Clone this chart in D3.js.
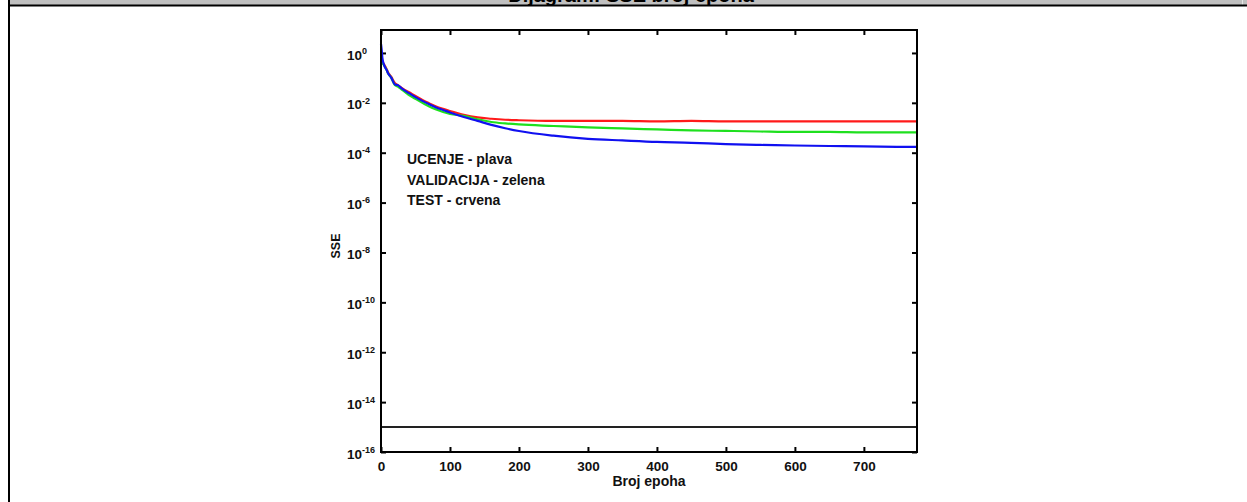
<!DOCTYPE html>
<html>
<head>
<meta charset="utf-8">
<script src="https://cdn.jsdelivr.net/npm/d3@7"></script>
<style>
  html, body { margin: 0; padding: 0; background: #fff; }
  svg { display: block; font-family: "Liberation Sans", Arial, sans-serif; }
</style>
</head>
<body>
<svg id="chart" width="1247" height="502"></svg>
<script>
// ---- data ----
const epochs = [0, 1, 2, 3, 5, 8, 10, 15, 20, 25, 30, 40, 50, 60, 70, 80, 90, 100,
  120, 140, 160, 180, 200, 250, 300, 350, 400, 450, 500, 550, 600, 650, 700, 777];
const sseTrain = [2.3, 1.32, 0.63, 0.44, 0.30, 0.21, 0.158, 0.10, 0.055, 0.050, 0.038, 0.025,
  0.017, 0.012, 0.0087, 0.0065, 0.0052, 0.0041, 0.0027, 0.00188, 0.0013, 0.00096, 0.00074,
  0.00048, 0.00036, 0.00031, 0.00027, 0.00025, 0.00022, 0.000205, 0.000195, 0.000186, 0.000178, 0.00017];
const sseValidation = [0.52, 0.48, 0.40, 0.36, 0.30, 0.21, 0.158, 0.10, 0.052, 0.044, 0.034, 0.021,
  0.0144, 0.010, 0.0071, 0.0054, 0.0043, 0.0036, 0.0030, 0.0022, 0.0017, 0.00149, 0.00136,
  0.00118, 0.00103, 0.00094, 0.00086, 0.00078, 0.00075, 0.00071, 0.00068, 0.00068, 0.00065, 0.00065];
const sseTest = [0.57, 0.52, 0.44, 0.40, 0.33, 0.23, 0.173, 0.109, 0.063, 0.050, 0.040, 0.027,
  0.019, 0.013, 0.0095, 0.0071, 0.0057, 0.0047, 0.0033, 0.0026, 0.0023, 0.0021, 0.0020,
  0.00188, 0.00188, 0.00188, 0.00179, 0.00188, 0.00179, 0.00179, 0.00179, 0.00179, 0.00179, 0.00179];
const goal = 1e-15;
const xTicks = [0, 100, 200, 300, 400, 500, 600, 700];
const yTicks = [1e0, 1e-2, 1e-4, 1e-6, 1e-8, 1e-10, 1e-12, 1e-14, 1e-16];
const legendLines = ["UCENJE - plava", "VALIDACIJA - zelena", "TEST - crvena"];
const titleText = "Dijagram: SSE broj epoha";
const xLabel = "Broj epoha";
const yLabel = "SSE";

// ---- layout ----
const W = 1247, H = 502;
const L = 381, R = 917, T = 30, B = 452;
const svg = d3.select("#chart");

svg.append("rect").attr("width", W).attr("height", H).attr("fill", "#fff");

// header bar
svg.append("clipPath").attr("id", "hdr").append("rect")
  .attr("x", 10).attr("y", 0).attr("width", W - 10).attr("height", 5);
svg.append("rect").attr("x", 10).attr("y", 0).attr("width", W - 10).attr("height", 5).attr("fill", "#c0c0c0");
svg.append("line").attr("x1", 1242.5).attr("x2", 1242.5).attr("y1", 0).attr("y2", 5)
  .attr("stroke", "#e6e6e6").attr("stroke-width", 1);
svg.append("text").attr("clip-path", "url(#hdr)")
  .attr("x", 631).attr("y", 2).attr("text-anchor", "middle")
  .attr("font-size", 20).attr("font-weight", "bold").attr("fill", "#000")
  .text(titleText);
svg.append("rect").attr("x", 10).attr("y", 4.5).attr("width", W - 10).attr("height", 2).attr("fill", "#000");
svg.append("rect").attr("x", 8).attr("y", 0).attr("width", 2).attr("height", H).attr("fill", "#000");

// scales
const x = d3.scaleLinear().domain([0, 777]).range([L, R]);
const y = d3.scaleLog().domain([1e-16, Math.pow(10, 0.92)]).range([B, T]);

// axes
const fmtNone = () => "";
const gx = svg.append("g").attr("transform", `translate(0,${B})`)
  .call(d3.axisBottom(x).tickValues(xTicks).tickSizeInner(-5).tickSizeOuter(0).tickPadding(9));
svg.append("g").attr("transform", `translate(0,${T})`)
  .call(d3.axisTop(x).tickValues(xTicks).tickSizeInner(-5).tickSizeOuter(0).tickFormat(fmtNone));
const gy = svg.append("g").attr("transform", `translate(${L},0)`)
  .call(d3.axisLeft(y).tickValues(yTicks).tickSizeInner(-5).tickSizeOuter(0));
svg.append("g").attr("transform", `translate(${R},0)`)
  .call(d3.axisRight(y).tickValues(yTicks).tickSizeInner(-5).tickSizeOuter(0).tickFormat(fmtNone));

svg.selectAll(".domain").remove();
svg.selectAll(".tick line").attr("stroke", "#000").attr("stroke-width", 2);
gx.selectAll(".tick text").attr("font-size", 13.5).attr("font-weight", "bold")
  .attr("font-family", "Liberation Sans, Arial, sans-serif").attr("fill", "#111");

gy.selectAll(".tick text").each(function(d) {
  const e = Math.round(Math.log10(d));
  const t = d3.select(this);
  t.text(null).attr("x", -34).attr("text-anchor", "start").attr("dy", "0.45em")
    .attr("font-size", 13.5).attr("font-weight", "bold")
    .attr("font-family", "Liberation Sans, Arial, sans-serif").attr("fill", "#111");
  t.append("tspan").text("10");
  t.append("tspan").attr("dy", "-0.65em").attr("font-size", 9).text(String(e));
});

// series
const line = d3.line().x((d, i) => x(epochs[i])).y(d => y(d)).curve(d3.curveMonotoneX);
const series = [
  { vals: sseTest, color: "#ff1a1a" },
  { vals: sseValidation, color: "#1ee01e" },
  { vals: sseTrain, color: "#1010f0" }
];
series.forEach(s => {
  svg.append("path").datum(s.vals).attr("d", line)
    .attr("fill", "none").attr("stroke", s.color).attr("stroke-width", 2.2)
    .attr("stroke-linejoin", "round");
});

// goal line
svg.append("line").attr("x1", x(0)).attr("x2", x(777)).attr("y1", y(goal)).attr("y2", y(goal))
  .attr("stroke", "#222").attr("stroke-width", 2);

// frame
svg.append("rect").attr("x", L).attr("y", T).attr("width", R - L).attr("height", B - T)
  .attr("fill", "none").attr("stroke", "#000").attr("stroke-width", 2);

// legend text
legendLines.forEach((s, i) => {
  svg.append("text").attr("x", 407).attr("y", 164 + i * 20.5)
    .attr("font-size", 14).attr("font-weight", "bold").attr("fill", "#111").text(s);
});

// axis labels
svg.append("text").attr("x", (L + R) / 2).attr("y", 486).attr("text-anchor", "middle")
  .attr("font-size", 14).attr("font-weight", "bold").attr("fill", "#111").text(xLabel);
svg.append("text").attr("transform", "translate(340,246) rotate(-90)").attr("text-anchor", "middle")
  .attr("font-size", 12.5).attr("font-weight", "bold").attr("fill", "#111").text(yLabel);
</script>
</body>
</html>
